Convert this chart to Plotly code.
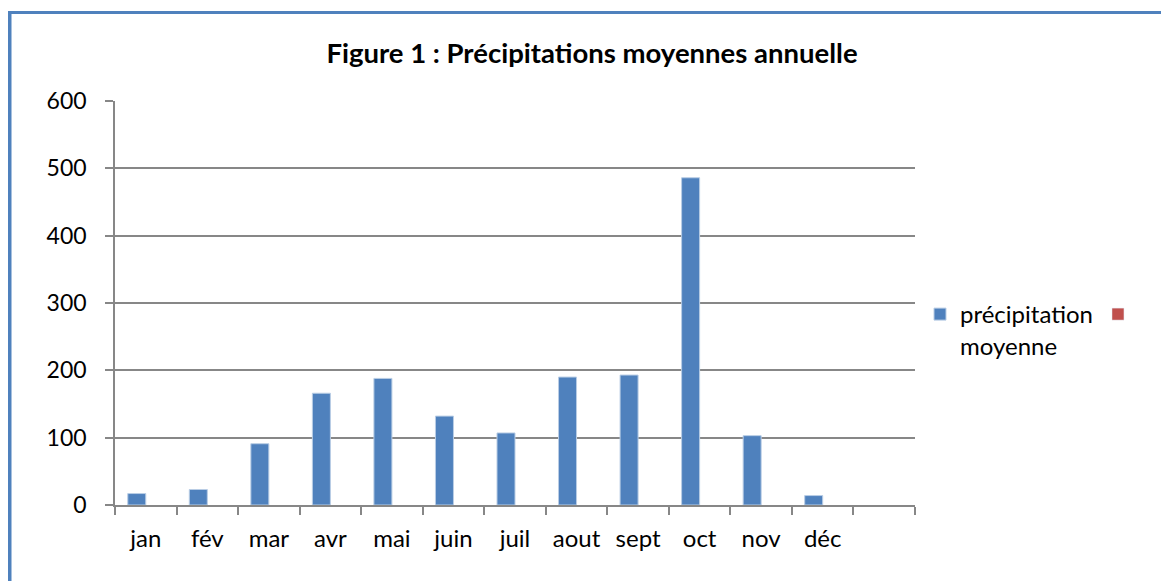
import plotly.graph_objects as go

months = ["jan", "fév", "mar", "avr", "mai", "juin", "juil", "aout", "sept", "oct", "nov", "déc", " "]
precip = [17, 23, 91, 166, 188, 132, 107, 190, 193, 486, 103, 14, None]
empty_series = [None] * len(months)
series_names = ["précipitation<br>moyenne", " "]
y_ticks = [0, 100, 200, 300, 400, 500, 600]

# page offset (browser body margin)
OFF = 8
WIN_W, WIN_H = 1169, 581
W, H = WIN_W - OFF, WIN_H - OFF
# plot area in window pixels: x 115..915, y 101..505
L = 115 - OFF
T = 101 - OFF
R = WIN_W - 915
B = WIN_H - 505
pw, ph = W - L - R, H - T - B

def px_x(p):
    return (p - OFF - L) / pw

def px_y(p):
    return (H - B - (p - OFF)) / ph

font_family = "Lato, Carlito, Calibri, sans-serif"
frame_col = "#4F81BD"
grid_col = "#878787"

fig = go.Figure()
fig.add_trace(go.Bar(x=months, y=precip, name=series_names[0],
                     marker=dict(color="#4F81BD", line=dict(color="#B9CDE5", width=1))))
fig.add_trace(go.Bar(x=months, y=empty_series, name=series_names[1],
                     marker=dict(color="#C0504D")))

fig.update_layout(
    width=W, height=H,
    margin=dict(l=L, r=R, t=T, b=B, autoexpand=False),
    paper_bgcolor="white", plot_bgcolor="white",
    barmode="group", bargap=0.415, bargroupgap=0,
    font=dict(family=font_family, size=24, color="black"),
    title=dict(text="<b>Figure 1 : Précipitations moyennes annuelle</b>",
               x=(592 - OFF) / W, xanchor="center", xref="container",
               y=1 - (53 - OFF) / H, yanchor="middle", yref="container",
               font=dict(family=font_family, size=27.5, color="black")),
    showlegend=True,
    legend=dict(orientation="h", x=px_x(920), xanchor="left",
                y=px_y(292), yanchor="top", bgcolor="rgba(0,0,0,0)",
                valign="top",
                font=dict(family=font_family, size=24, color="black"),
                traceorder="normal", itemclick=False),
    xaxis=dict(type="category", categoryorder="array", categoryarray=months,
               tickson="boundaries", ticks="outside", ticklen=8, tickwidth=1.5,
               tickcolor=grid_col, showline=True, linecolor=grid_col, linewidth=1.5,
               showgrid=False, zeroline=False, ticklabelstandoff=11,
               tickfont=dict(family=font_family, size=24, color="black"),
               fixedrange=True),
    yaxis=dict(range=[0, 600], tickvals=y_ticks, ticks="outside", ticklen=8,
               tickwidth=1.5, tickcolor=grid_col, showline=True, linecolor=grid_col,
               linewidth=1.5, showgrid=True, gridcolor=grid_col, gridwidth=1.5,
               zeroline=False, ticklabelstandoff=14,
               tickfont=dict(family=font_family, size=23, color="black"),
               fixedrange=True),
    shapes=[
        dict(type="line", xref="paper", yref="paper",
             x0=px_x(9.5), x1=px_x(9.5), y0=px_y(11), y1=px_y(WIN_H + 5),
             line=dict(color=frame_col, width=4)),
        dict(type="line", xref="paper", yref="paper",
             x0=px_x(7.5), x1=px_x(WIN_W + 5), y0=px_y(12.5), y1=px_y(12.5),
             line=dict(color=frame_col, width=3)),
    ],
)

fig.write_html("out.html")
